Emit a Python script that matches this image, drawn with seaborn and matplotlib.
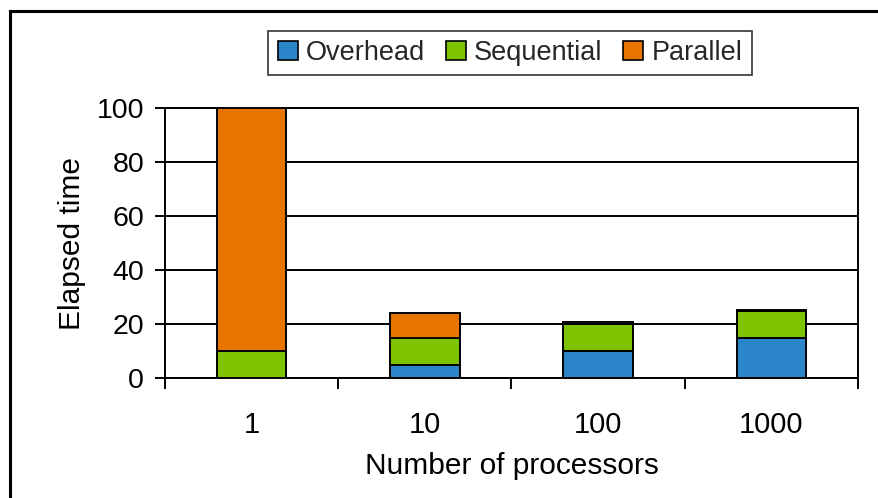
import matplotlib
matplotlib.use("Agg")
import matplotlib.pyplot as plt
from matplotlib.patches import Rectangle, Patch
import seaborn as sns
import pandas as pd

processors = ["1", "10", "100", "1000"]
overhead = [0, 5, 10, 15]
sequential = [10, 10, 10, 10]
parallel = [90, 9, 0.9, 0.09]
series_names = ["Overhead", "Sequential", "Parallel"]
colors = ["#2A86C8", "#7DC300", "#E87400"]

sns.set_theme(style="white")
plt.rcParams["font.family"] = ["Liberation Sans", "DejaVu Sans"]

df = pd.DataFrame({"processors": processors, "Overhead": overhead,
                   "Sequential": sequential, "Parallel": parallel})

fig = plt.figure(figsize=(8.79, 4.98), dpi=100)
ax = fig.add_axes([165 / 879, 1 - 378 / 498, (858 - 165) / 879, (378 - 108) / 498])

bottom = [0.0] * len(processors)
for name, color in zip(series_names, colors):
    sns.barplot(data=df, x="processors", y=name, color=color, bottom=bottom,
                width=0.4, edgecolor="black", linewidth=1.4, ax=ax,
                saturation=1, zorder=3)
    bottom = [b + v for b, v in zip(bottom, df[name])]

ax.set_xlim(-0.5, len(processors) - 0.5)
ax.set_ylim(0, 100)
ax.set_yticks([0, 20, 40, 60, 80, 100])
ax.yaxis.grid(True, color="black", linewidth=1.4, zorder=0)
ax.set_axisbelow(True)
for s in ax.spines.values():
    s.set_color("black")
    s.set_linewidth(1.4)

ax.tick_params(axis="y", which="major", length=7, width=1.4, direction="out",
               left=True, labelsize=20.5, pad=8, color="black")
ax.tick_params(axis="x", which="major", length=0, labelsize=21, pad=24)
ax.set_xticks([i + 0.5 for i in range(-1, len(processors))], minor=True)
ax.tick_params(axis="x", which="minor", length=8, width=1.4, direction="out",
               bottom=True, color="black")

ax.set_xlabel("Number of processors", fontsize=21.5, labelpad=9, color="black")
ax.set_ylabel("Elapsed time", fontsize=21.5, labelpad=8, color="black")
for lbl in ax.get_xticklabels() + ax.get_yticklabels():
    lbl.set_color("black")

handles = [Patch(facecolor=c, edgecolor="black", linewidth=1.2) for c in colors]
leg = fig.legend(handles, series_names, loc="center", bbox_to_anchor=(510 / 879, 1 - 53 / 498),
                 ncol=3, fontsize=19.5, frameon=True, fancybox=False, edgecolor="black",
                 handlelength=0.75, handleheight=0.75, handletextpad=0.3,
                 columnspacing=0.75, borderpad=0.35)
leg.get_frame().set_linewidth(1.2)

fig.patches.append(Rectangle((10 / 879, -0.1), 1.2, 1 - 11 / 498 + 0.1,
                             transform=fig.transFigure, fill=False,
                             edgecolor="black", linewidth=2.2))

fig.savefig("out.png", dpi=100)
